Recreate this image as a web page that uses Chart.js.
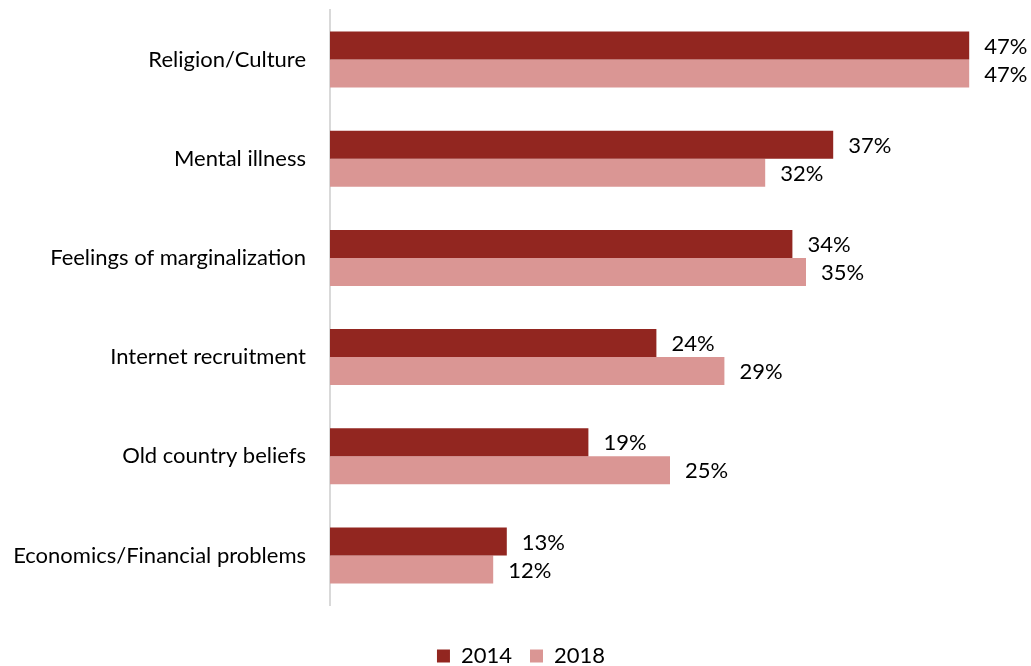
<!DOCTYPE html>
<html>
<head>
<meta charset="utf-8">
<script src="https://cdn.jsdelivr.net/npm/chart.js@4/dist/chart.umd.min.js"></script>
<style>
  html, body { margin: 0; padding: 0; background: #ffffff; }
  #wrap { width: 1031px; height: 666px; position: relative; }
</style>
</head>
<body>
<div id="wrap"><canvas id="chart"></canvas></div>
<script>
const categories = [
  'Religion/Culture',
  'Mental illness',
  'Feelings of marginalization',
  'Internet recruitment',
  'Old country beliefs',
  'Economics/Financial problems'
];
const values2014 = [47, 37, 34, 24, 19, 13];
const values2018 = [47, 32, 35, 29, 25, 12];
const seriesNames = ['2014', '2018'];

const FONT = 'Lato, "Open Sans", "Liberation Sans", sans-serif';
const FONT_SIZE = 22;

// Writes "NN%" just past the end of every bar
const valueLabels = {
  id: 'valueLabels',
  afterDatasetsDraw(chart) {
    const ctx = chart.ctx;
    ctx.save();
    ctx.font = FONT_SIZE + 'px ' + FONT;
    ctx.fillStyle = '#000000';
    ctx.textAlign = 'left';
    ctx.textBaseline = 'middle';
    chart.data.datasets.forEach((ds, di) => {
      chart.getDatasetMeta(di).data.forEach((bar, i) => {
        ctx.fillText(ds.data[i] + '%', bar.x + 15, bar.y + 1);
      });
    });
    ctx.restore();
  }
};

// Legend strip: fixed height under the plot, items nudged into place
const legendPlacement = {
  id: 'legendPlacement',
  beforeLayout(chart) {
    const legend = chart.legend;
    if (!legend || legend._placed) return;
    legend._placed = true;
    const fit = legend.fit.bind(legend);
    legend.fit = function () { fit(); this.height = 61; };
    const draw = legend.draw.bind(legend);
    legend.draw = function () {
      const ctx = this.ctx;
      ctx.save();
      ctx.translate(16, 22);
      draw();
      ctx.restore();
    };
  }
};

new Chart(document.getElementById('chart'), {
  type: 'bar',
  data: {
    labels: categories,
    datasets: [
      { label: seriesNames[0], data: values2014, backgroundColor: '#922620' },
      { label: seriesNames[1], data: values2018, backgroundColor: '#DA9694' }
    ]
  },
  options: {
    indexAxis: 'y',
    responsive: true,
    maintainAspectRatio: false,
    animation: false,
    layout: { padding: { top: 10, right: 21, left: 0, bottom: 0 } },
    datasets: {
      bar: { categoryPercentage: 0.565, barPercentage: 1.0, borderWidth: 0 }
    },
    scales: {
      x: {
        display: false,
        min: 0,
        max: 50
      },
      y: {
        grid: {
          display: true,
          drawOnChartArea: false,
          drawTicks: true,
          tickLength: 24,
          color: 'rgba(0,0,0,0)'
        },
        border: { display: true, color: '#d9d9d9', width: 2 },
        ticks: {
          color: '#000000',
          padding: 0,
          font: { family: FONT, size: FONT_SIZE, lineHeight: 0.9 }
        },
        afterFit(scale) { scale.width = 330; }
      }
    },
    plugins: {
      tooltip: { enabled: false },
      legend: {
        position: 'bottom',
        labels: {
          boxWidth: 13,
          boxHeight: 13,
          padding: 18,
          color: '#000000',
          font: { family: FONT, size: FONT_SIZE }
        }
      }
    }
  },
  plugins: [valueLabels, legendPlacement]
});
</script>
</body>
</html>
